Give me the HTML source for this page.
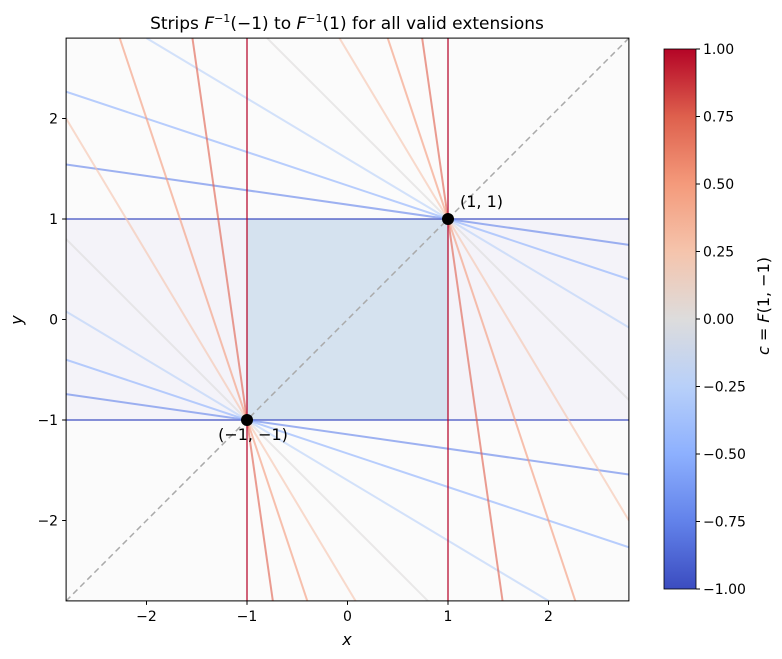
<!DOCTYPE html>
<html><head><meta charset="utf-8"><style>
html,body{margin:0;padding:0;background:#fff;overflow:hidden;width:782px;height:659px;}
svg{display:block;}
svg text{font-family:"DejaVu Sans","Liberation Sans",sans-serif;fill:#000;}
</style></head><body>
<svg id="chart" width="782" height="659" xmlns="http://www.w3.org/2000/svg">
<defs>
<clipPath id="clip"><rect x="66.1" y="38.1" width="562.8" height="562.8"/></clipPath>
<linearGradient id="cbar" x1="0" y1="1" x2="0" y2="0">
<stop offset="0" stop-color="#3b4cc0"/><stop offset="0.125" stop-color="#6282ea"/><stop offset="0.25" stop-color="#8db0fe"/><stop offset="0.375" stop-color="#b8d0f9"/><stop offset="0.5" stop-color="#dddcdc"/><stop offset="0.625" stop-color="#f5c4ac"/><stop offset="0.75" stop-color="#f49a7b"/><stop offset="0.875" stop-color="#de604d"/><stop offset="1" stop-color="#b40426"/>
</linearGradient>
</defs>
<g id="plot" clip-path="url(#clip)"></g>
<g id="axes"></g>
<text x="347" y="29" font-size="17" text-anchor="middle">Strips <tspan font-style="italic">F</tspan><tspan font-size="11" dy="-7">−1</tspan><tspan dy="7">(−1) to </tspan><tspan font-style="italic">F</tspan><tspan font-size="11" dy="-7">−1</tspan><tspan dy="7">(1) for all valid extensions</tspan></text>
<text x="347" y="645" font-size="16" font-style="italic" text-anchor="middle">x</text>
<text x="22" y="320" font-size="16" font-style="italic" text-anchor="middle" transform="rotate(-90 22 320)">y</text>
<rect x="664" y="49" width="32" height="540" fill="url(#cbar)" stroke="#000" stroke-width="0.8"/>
<text x="769" y="306" font-size="16" text-anchor="middle" transform="rotate(-90 769 306)"><tspan font-style="italic">c</tspan> = <tspan font-style="italic">F</tspan>(1, −1)</text>
</svg>
<script>
const cValues=[-1,-0.75,-0.5,-0.25,0,0.25,0.5,0.75,1];
const lineColors=["#3b4cc0","#6282ea","#8db0fe","#b8d0f9","#dddcdc","#f5c4ac","#f49a7b","#de604d","#b40426"];
const anchorPoints=[[-1,-1],[1,1]];
const xTicks=[-2,-1,0,1,2];
const yTicks=[-2,-1,0,1,2];
const cbTicks=[-1,-0.75,-0.5,-0.25,0,0.25,0.5,0.75,1];
const NS="http://www.w3.org/2000/svg";
const X0=66.1,X1=628.9,Y0=38.1,Y1=600.9,DMIN=-2.8,DMAX=2.8;
const sx=v=>X0+(v-DMIN)/(DMAX-DMIN)*(X1-X0);
const sy=v=>Y1-(v-DMIN)/(DMAX-DMIN)*(Y1-Y0);
const cy=v=>589-(v+1)/2*540;
function mk(tag,attrs,parent){const e=document.createElementNS(NS,tag);for(const k in attrs)e.setAttribute(k,attrs[k]);parent.appendChild(e);return e;}
const plot=document.getElementById('plot'),axes=document.getElementById('axes');
let r=mk('rect',{x:X0,y:Y0,width:X1-X0,height:Y1-Y0,fill:'#fbfbfb'},plot);


r=mk('rect',{x:X0,y:sy(anchorPoints[1][1]),width:X1-X0,height:sy(anchorPoints[0][1])-sy(anchorPoints[1][1]),fill:'#f4f3f9'},plot);


r=mk('rect',{x:sx(anchorPoints[0][0]),y:sy(anchorPoints[1][1]),width:sx(anchorPoints[1][0])-sx(anchorPoints[0][0]),height:sy(anchorPoints[0][1])-sy(anchorPoints[1][1]),fill:'#d5e2ef'},plot);


cValues.forEach((c,i)=>{
  anchorPoints.forEach(p=>{
    let x1,y1,x2,y2;
    if(c>=1){x1=x2=p[0];y1=DMIN;y2=DMAX;}
    else{
      const m=-(1+c)/(1-c);
      let xa=DMIN,xb=DMAX;
      if(m!==0){
        const xl=p[0]+(DMIN-p[1])/m, xh=p[0]+(DMAX-p[1])/m;
        xa=Math.max(DMIN,Math.min(xl,xh)); xb=Math.min(DMAX,Math.max(xl,xh));
      }
      x1=xa;x2=xb;y1=p[1]+m*(x1-p[0]);y2=p[1]+m*(x2-p[0]);
    }
    const l=mk('line',{x1:sx(x1),y1:sy(y1),x2:sx(x2),y2:sy(y2),stroke:lineColors[i],'stroke-width':2,'stroke-opacity':0.62},plot);
    
    
  });
});
const d=mk('line',{x1:sx(DMIN),y1:sy(DMIN),x2:sx(DMAX),y2:sy(DMAX),stroke:'#aaa','stroke-width':1.5,'stroke-dasharray':'6,4'},plot);


anchorPoints.forEach(p=>{
  const c=mk('circle',{cx:sx(p[0]),cy:sy(p[1]),r:6,fill:'#000'},axes);
  
  
});
let t=mk('text',{x:sx(1)+12,y:sy(1)-12,'font-size':16},axes);t.textContent='(1, 1)';


t=mk('text',{x:sx(-1)+6,y:sy(-1)+20,'font-size':16,'text-anchor':'middle'},axes);t.textContent='(−1, −1)';


const fr=mk('rect',{x:X0,y:Y0,width:X1-X0,height:Y1-Y0,fill:'none',stroke:'#000','stroke-width':1},axes);


xTicks.forEach(v=>{
  mk('line',{x1:sx(v),x2:sx(v),y1:Y1,y2:Y1+4,stroke:'#000'},axes);
  const tx=mk('text',{x:sx(v),y:Y1+20,'font-size':14,'text-anchor':'middle'},axes);tx.textContent=v<0?'−'+(-v):v;
  
  
});
yTicks.forEach(v=>{
  mk('line',{x1:X0-4,x2:X0,y1:sy(v),y2:sy(v),stroke:'#000'},axes);
  const tx=mk('text',{x:X0-8,y:sy(v)+5,'font-size':14,'text-anchor':'end'},axes);tx.textContent=v<0?'−'+(-v):v;
  
  
});
cbTicks.forEach(v=>{
  mk('line',{x1:696,x2:700,y1:cy(v),y2:cy(v),stroke:'#000'},axes);
  const tx=mk('text',{x:703,y:cy(v)+5,'font-size':14},axes);tx.textContent=(v<0?'−':'')+Math.abs(v).toFixed(2);
  
  
});
</script>
</body></html>
